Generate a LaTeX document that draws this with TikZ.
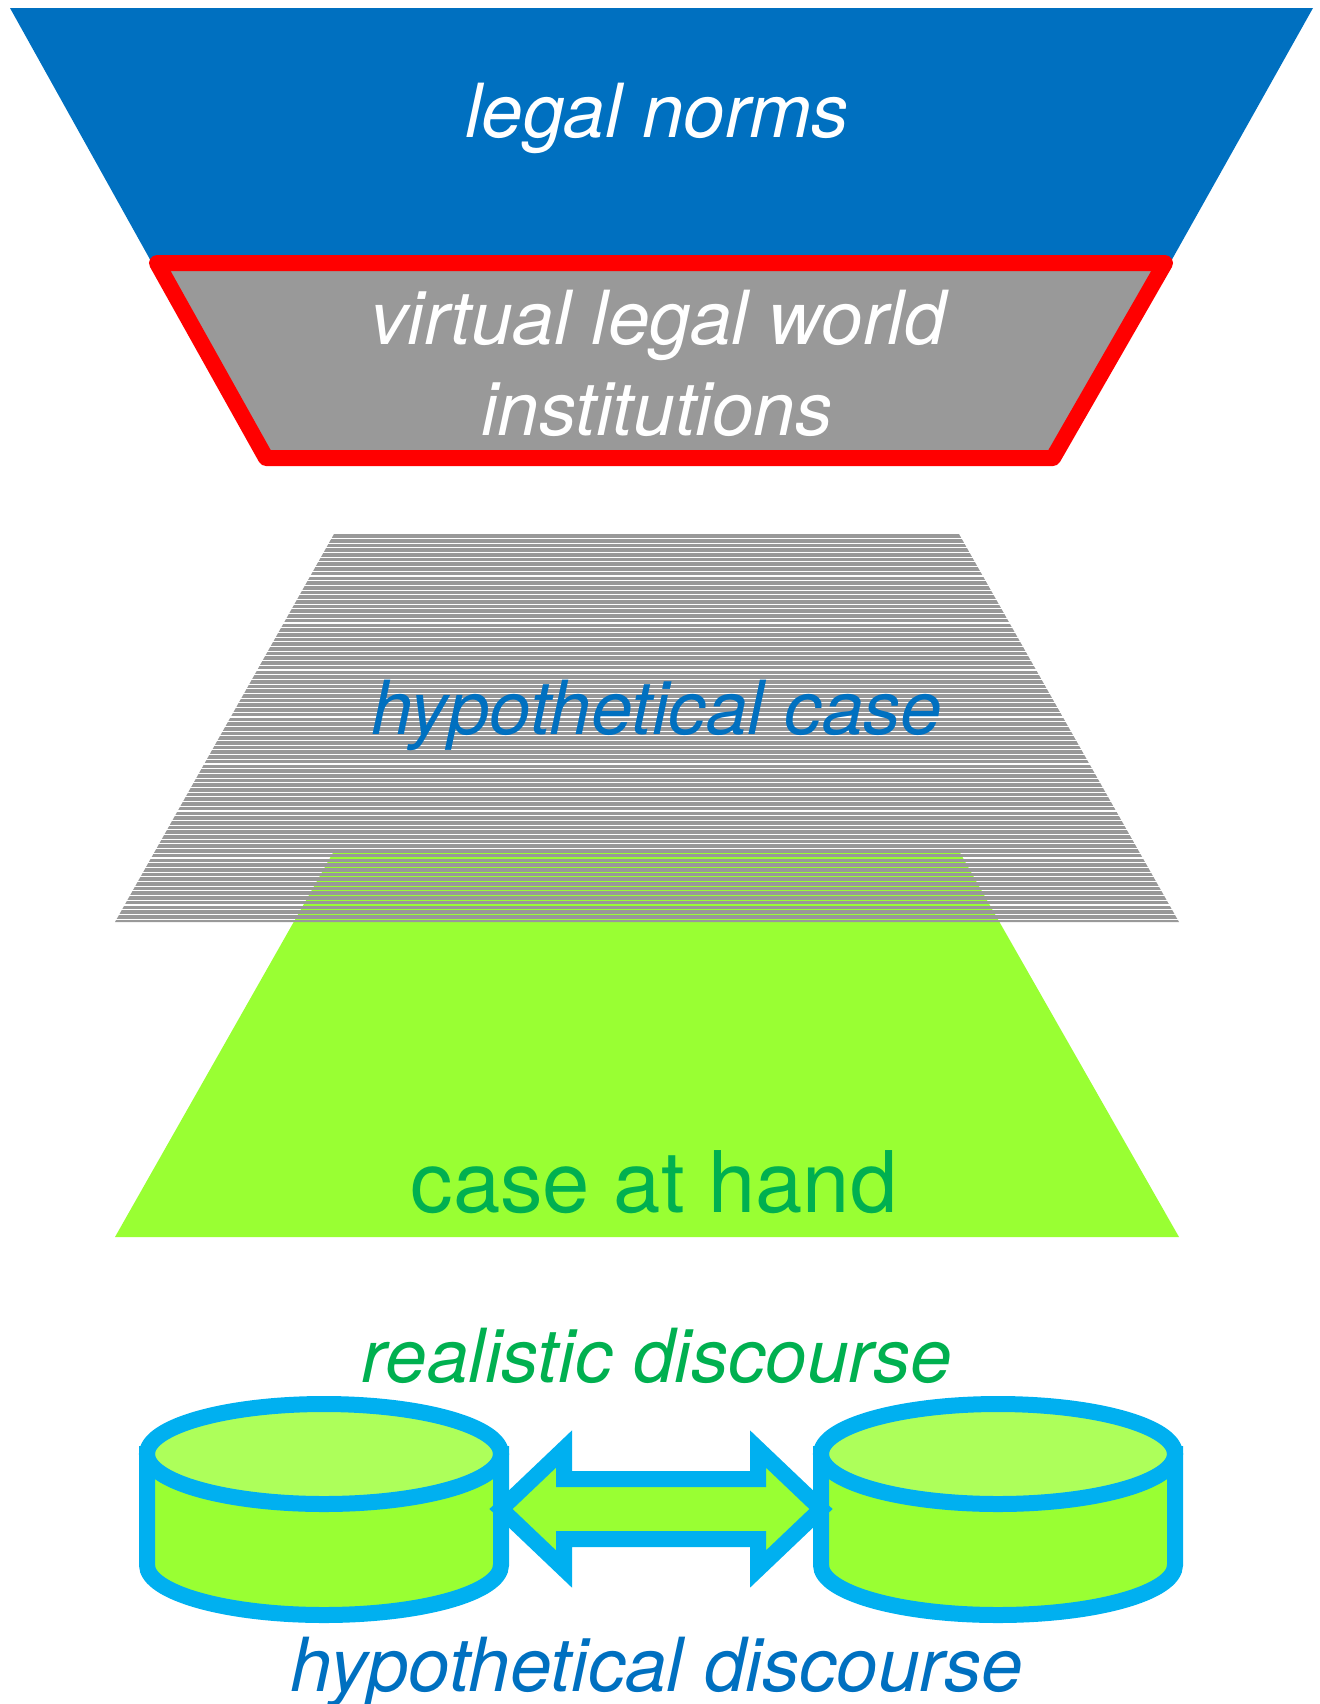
\documentclass[tikz,border=0pt]{standalone}
\usepackage{fontspec}
\setmainfont{TeX Gyre Heros}
\usetikzlibrary{calc}

\definecolor{normblue}{HTML}{0070C0}
\definecolor{worldgray}{HTML}{999999}
\definecolor{handgreen}{HTML}{99FF33}
\definecolor{topgreen}{HTML}{ADFF5A}
\definecolor{textgreen}{HTML}{00B050}
\definecolor{rimblue}{HTML}{00B0F0}

\tikzset{
  txt/.style={anchor=base, font=\fontsize{37.3}{44}\selectfont\itshape},
  rim/.style={draw=rimblue, line width=8pt},
}

\begin{document}
\begin{tikzpicture}[x=0.5pt, y=-0.5pt]
\useasboundingbox (0,0) rectangle (1319,1704);

% legal norms
\fill[normblue] (10,8) -- (1313,8) -- (1170,263) -- (152,263) -- cycle;
\filldraw[fill=worldgray, draw=red, line width=8pt, line join=round]
  (157,263) -- (1165,263) -- (1053,458) -- (266,458) -- cycle;
\node[txt, white] (norms) at (657,137) {legal norms};
\node[txt, white] (world) at (658,344) {virtual legal world};
\node[txt, white] (inst) at (657,435) {institutions};

% case at hand and hypothetical case
\fill[handgreen] (334,851) -- (959,851) -- (1179,1237) -- (115,1237) -- cycle;
\begin{scope}
  \clip (334,534) -- (959,534) -- (1179,922) -- (115,922) -- cycle;
  \foreach \i in {0,...,82}
    \draw[worldgray, line width=1.8pt] (100,{536+4.7*\i}) -- (1200,{536+4.7*\i});
\end{scope}
\node[txt, normblue] (hypcase) at (657,734) {hypothetical case};
\node[anchor=base, textgreen, font=\fontsize{42.5}{50}\selectfont] (hand) at (654,1212) {case at hand};

% discourses
\foreach \cx in {324,998} {
  \filldraw[rim, fill=handgreen] (\cx-177,1454) -- (\cx-177,1565)
    arc[start angle=180, end angle=0, x radius=177, y radius=50] -- (\cx+177,1454) -- cycle;
  \filldraw[rim, fill=topgreen] (\cx,1454) ellipse[x radius=177, y radius=50];
}
\coordinate (ltip) at (501,1509);
\coordinate (rtip) at (821,1509);
\filldraw[rim, fill=handgreen] (ltip) -- ($(ltip)+(63,-60)$) -- ($(ltip)+(63,-30)$)
  -- ($(rtip)+(-63,-30)$) -- ($(rtip)+(-63,-60)$) -- (rtip)
  -- ($(rtip)+(-63,60)$) -- ($(rtip)+(-63,30)$)
  -- ($(ltip)+(63,30)$) -- ($(ltip)+(63,60)$) -- cycle;
\node[txt, textgreen] (real) at (657,1382) {realistic discourse};
\node[txt, normblue] (hypdisc) at (657,1691) {hypothetical discourse};
\end{tikzpicture}
\end{document}
